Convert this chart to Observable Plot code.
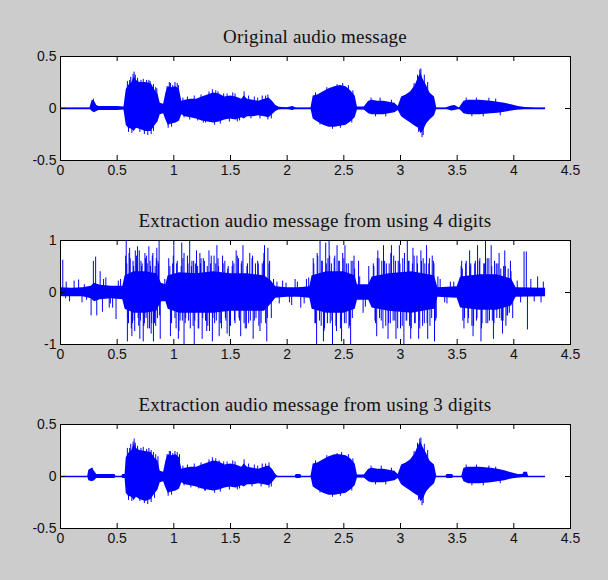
<!DOCTYPE html>
<html>
<head>
<meta charset="utf-8">
<script src="https://cdn.jsdelivr.net/npm/d3@7"></script>
<script src="https://cdn.jsdelivr.net/npm/@observablehq/plot@0.6"></script>
<style>
  html, body { margin: 0; padding: 0; background: #cccccc; }
  #fig { position: relative; width: 608px; height: 580px; background: #cccccc; overflow: hidden; }
  .panel { position: absolute; left: 0; }
  .ttl { position: absolute; left: 60px; width: 510px; text-align: center; letter-spacing: 0.2px;
         font-family: "Liberation Serif", "Times New Roman", serif; font-size: 19px; color: #111; line-height: 20px; }
</style>
</head>
<body>
<div id="fig"></div>
<script>
// ---------- titles & ticks ----------
const titles = [
  "Original audio message",
  "Extraction audio message from using 4 digits",
  "Extraction audio message from using 3 digits"
];
const xTicks = [0, 0.5, 1, 1.5, 2, 2.5, 3, 3.5, 4, 4.5];
const xTickLabels = ["0", "0.5", "1", "1.5", "2", "2.5", "3", "3.5", "4", "4.5"];
const yTicksHalf = [-0.5, 0, 0.5];
const yTickLabelsHalf = ["-0.5", "0", "0.5"];
const yTicksOne = [-1, 0, 1];
const yTickLabelsOne = ["-1", "0", "1"];
const signalEnd = 4.28;

// ---------- original signal: envelope (time s, upper, lower) + edge spikes ----------
const origT  = [0, 0.26, 0.28, 0.30, 0.32, 0.34, 0.50, 0.56, 0.58, 0.60, 0.63, 0.65, 0.67, 0.70, 0.75, 0.80, 0.83, 0.86, 0.88, 0.91, 0.93, 0.95, 0.98, 1.02, 1.05, 1.07, 1.10, 1.15, 1.20, 1.25, 1.30, 1.35, 1.40, 1.45, 1.50, 1.55, 1.60, 1.62, 1.65, 1.70, 1.75, 1.80, 1.84, 1.87, 1.90, 1.93, 2.00, 2.05, 2.08, 2.15, 2.21, 2.23, 2.27, 2.32, 2.37, 2.42, 2.47, 2.52, 2.56, 2.60, 2.62, 2.68, 2.72, 2.75, 2.80, 2.85, 2.90, 2.95, 2.98, 3.01, 3.05, 3.09, 3.13, 3.16, 3.18, 3.20, 3.23, 3.26, 3.30, 3.32, 3.40, 3.45, 3.48, 3.52, 3.56, 3.60, 3.70, 3.80, 3.86, 3.92, 3.98, 4.04, 4.10, 4.20, 4.28];
const origHi = [0.006, 0.006, 0.08, 0.07, 0.03, 0.02, 0.02, 0.015, 0.18, 0.22, 0.25, 0.30, 0.27, 0.25, 0.25, 0.24, 0.18, 0.14, 0.05, 0.04, 0.15, 0.21, 0.20, 0.21, 0.18, 0.07, 0.08, 0.09, 0.09, 0.11, 0.13, 0.15, 0.14, 0.11, 0.12, 0.11, 0.09, 0.12, 0.09, 0.08, 0.07, 0.09, 0.10, 0.07, 0.03, 0.012, 0.008, 0.02, 0.006, 0.006, 0.006, 0.12, 0.13, 0.16, 0.19, 0.21, 0.22, 0.21, 0.17, 0.12, 0.015, 0.015, 0.07, 0.08, 0.07, 0.07, 0.06, 0.05, 0.02, 0.11, 0.13, 0.16, 0.22, 0.30, 0.34, 0.28, 0.22, 0.15, 0.11, 0.006, 0.006, 0.025, 0.03, 0.006, 0.07, 0.08, 0.08, 0.07, 0.06, 0.05, 0.035, 0.02, 0.01, 0.006, 0.006];
const origLo = [-0.006, -0.006, -0.03, -0.04, -0.03, -0.02, -0.02, -0.015, -0.16, -0.19, -0.20, -0.22, -0.19, -0.20, -0.22, -0.22, -0.17, -0.13, -0.06, -0.05, -0.11, -0.16, -0.15, -0.14, -0.12, -0.06, -0.08, -0.09, -0.10, -0.12, -0.13, -0.14, -0.13, -0.11, -0.10, -0.11, -0.09, -0.10, -0.08, -0.08, -0.07, -0.08, -0.09, -0.06, -0.03, -0.012, -0.008, -0.02, -0.006, -0.006, -0.006, -0.10, -0.13, -0.16, -0.18, -0.18, -0.17, -0.16, -0.13, -0.09, -0.015, -0.015, -0.05, -0.06, -0.06, -0.06, -0.05, -0.04, -0.02, -0.08, -0.11, -0.14, -0.17, -0.19, -0.24, -0.22, -0.15, -0.11, -0.07, -0.006, -0.006, -0.025, -0.02, -0.006, -0.05, -0.06, -0.06, -0.05, -0.045, -0.035, -0.025, -0.015, -0.01, -0.006, -0.006];
const origSpikeT = [0.59, 0.61, 0.62, 0.64, 0.65, 0.66, 0.68, 0.71, 0.73, 0.76, 0.78, 0.79, 0.82, 0.84, 0.85, 0.94, 0.96, 0.97, 0.99, 1.01, 1.03, 1.04, 1.31, 1.34, 1.37, 1.39, 1.47, 1.52, 1.62, 1.71, 1.78, 1.83, 2.35, 2.44, 2.49, 2.54, 3.12, 3.15, 3.17, 3.18, 3.21, 3.24, 0.60, 0.63, 0.70, 0.74, 0.77, 0.80, 0.82, 0.95, 0.98, 1.28, 1.36, 1.41, 1.56, 1.83, 2.40, 2.47, 3.16, 3.19, 3.20,
  0.29, 1.08, 1.09, 1.12, 1.14, 1.18, 1.21, 1.24, 1.26, 1.44, 1.49, 1.54, 1.58, 1.66, 1.68, 1.74, 1.76, 1.81, 1.86, 2.25, 2.29, 2.57, 2.58, 2.74, 2.78, 2.82, 2.87, 2.92, 3.58, 3.63, 3.67, 3.73, 3.78, 3.84, 3.88];
const origSpikeV = [0.26, 0.27, 0.30, 0.33, 0.35, 0.32, 0.29, 0.27, 0.28, 0.27, 0.27, 0.26, 0.23, 0.20, 0.19, 0.21, 0.25, 0.24, 0.22, 0.25, 0.24, 0.22, 0.16, 0.18, 0.17, 0.16, 0.14, 0.15, 0.16, 0.11, 0.12, 0.13, 0.20, 0.23, 0.24, 0.22, 0.24, 0.32, 0.37, 0.38, 0.32, 0.25, -0.23, -0.24, -0.23, -0.25, -0.26, -0.25, -0.22, -0.19, -0.18, -0.14, -0.16, -0.15, -0.13, -0.11, -0.20, -0.19, -0.23, -0.28, -0.26,
  0.09, 0.10, -0.09, 0.11, -0.11, 0.12, -0.12, 0.13, -0.14, 0.14, -0.13, 0.14, -0.12, 0.12, -0.10, 0.10, -0.10, 0.12, -0.10, 0.15, -0.16, -0.14, 0.17, 0.10, -0.08, 0.10, -0.08, 0.08, 0.10, -0.08, 0.10, -0.08, 0.10, 0.09, -0.07];

// ---------- 4-digit extraction: dense core envelope + tall spikes + medium bursts ----------
const midT  = [0, 0.10, 0.20, 0.27, 0.30, 0.35, 0.45, 0.55, 0.57, 0.65, 0.75, 0.85, 0.89, 0.93, 0.95, 1.05, 1.20, 1.35, 1.50, 1.65, 1.80, 1.86, 1.90, 2.00, 2.10, 2.20, 2.22, 2.35, 2.50, 2.60, 2.62, 2.72, 2.75, 2.90, 3.10, 3.30, 3.33, 3.50, 3.53, 3.70, 3.85, 3.98, 4.02, 4.28];
const midHi = [0.09, 0.08, 0.09, 0.12, 0.18, 0.14, 0.12, 0.12, 0.32, 0.40, 0.40, 0.36, 0.18, 0.15, 0.32, 0.38, 0.36, 0.40, 0.36, 0.36, 0.32, 0.22, 0.11, 0.09, 0.09, 0.11, 0.32, 0.40, 0.40, 0.32, 0.15, 0.15, 0.30, 0.36, 0.40, 0.32, 0.09, 0.11, 0.30, 0.34, 0.34, 0.26, 0.09, 0.08];
const midLo = [-0.08, -0.08, -0.08, -0.12, -0.18, -0.14, -0.12, -0.14, -0.32, -0.40, -0.40, -0.36, -0.18, -0.18, -0.32, -0.40, -0.40, -0.40, -0.36, -0.36, -0.36, -0.22, -0.11, -0.09, -0.09, -0.11, -0.32, -0.40, -0.40, -0.32, -0.15, -0.15, -0.30, -0.36, -0.40, -0.32, -0.09, -0.11, -0.30, -0.34, -0.34, -0.26, -0.09, -0.08];
const spikeT = [0.02, 0.045, 0.16, 0.23, 0.27, 0.29, 0.31, 0.32, 0.35, 0.37, 0.40, 0.43, 0.46, 0.49, 0.51, 0.58, 0.59, 0.61, 0.63, 0.66, 0.68, 0.70, 0.73, 0.76, 0.78, 0.80, 0.82, 0.85, 0.87, 0.88, 0.92, 0.97, 1.00, 1.04, 1.07, 1.09, 1.14, 1.18, 1.20, 1.23, 1.25, 1.29, 1.31, 1.34, 1.38, 1.40, 1.43, 1.47, 1.49, 1.52, 1.55, 1.59, 1.61, 1.64, 1.67, 1.70, 1.72, 1.76, 1.80, 1.82, 1.83, 1.86, 1.91, 1.96, 2.02, 2.07, 2.12, 2.17, 2.26, 2.29, 2.32, 2.34, 2.37, 2.40, 2.44, 2.48, 2.51, 2.56, 2.59, 2.63, 2.67, 2.72, 2.79, 2.80, 2.85, 2.89, 2.92, 2.96, 2.99, 3.03, 3.06, 3.09, 3.11, 3.16, 3.18, 3.23, 3.24, 3.28, 3.30, 3.33, 3.39, 3.44, 3.54, 3.56, 3.61, 3.64, 3.68, 3.71, 3.75, 3.80, 3.82, 3.87, 3.90, 3.92, 3.93, 3.97, 3.99, 4.09, 4.11, 4.12, 4.21, 4.24];
const spikeV = [0.62, -0.12, 0.24, -0.15, -0.45, 0.60, 0.68, -0.45, 0.40, -0.38, 0.28, -0.30, -0.30, -0.52, 0.22, 1.0, -0.95, 0.85, -0.85, 0.80, 0.88, -0.90, -0.95, 0.70, 0.88, -0.80, -0.95, 0.85, 1.0, -0.90, 0.25, -0.85, 0.90, -0.90, 0.95, -1.0, 1.0, -1.0, 0.80, 0.75, -0.90, -0.75, 0.80, -0.95, 0.90, -0.85, 0.70, -0.80, -0.85, 0.60, 0.80, -0.85, 0.90, -0.70, 0.75, -0.90, 0.55, -0.75, 0.90, -0.95, 0.85, -0.50, 0.20, 0.22, -0.20, 0.25, -0.30, 0.25, -1.0, 1.0, -0.95, 0.95, 1.0, -1.0, 0.90, -0.95, 0.90, -1.0, 0.70, 0.60, -0.40, 0.50, -0.85, 0.80, 0.90, -0.90, 0.90, -0.90, 0.90, -1.0, 1.0, -0.90, 0.85, -0.90, 0.80, 0.90, -0.90, 0.70, -0.95, 0.30, -0.20, 0.20, 0.60, -0.70, 0.80, -0.85, 0.90, -0.95, 1.0, 0.90, -0.90, 0.75, -0.80, 0.80, -0.65, 0.60, -0.50, 0.78, 0.78, -0.72, 0.30, -0.20];
const burstT = [0.05, 0.08, 0.12, 0.19, 0.21, 0.38, 0.44, 0.53, 0.575, 0.60, 0.615, 0.625, 0.64, 0.65, 0.67, 0.69, 0.71, 0.72, 0.74, 0.75, 0.77, 0.79, 0.81, 0.83, 0.84, 0.86, 0.955, 0.98, 0.99, 1.02, 1.03, 1.055, 1.08, 1.10, 1.12, 1.13, 1.16, 1.17, 1.19, 1.22, 1.24, 1.27, 1.28, 1.30, 1.33, 1.36, 1.37, 1.39, 1.42, 1.45, 1.46, 1.48, 1.50, 1.53, 1.54, 1.57, 1.58, 1.60, 1.63, 1.65, 1.66, 1.69, 1.71, 1.74, 1.75, 1.78, 1.79, 1.81, 1.84, 1.88, 1.93, 1.99, 2.04, 2.09, 2.15, 2.19, 2.23, 2.25, 2.27, 2.30, 2.31, 2.33, 2.36, 2.38, 2.39, 2.42, 2.43, 2.46, 2.47, 2.50, 2.52, 2.54, 2.55, 2.58, 2.64, 2.69, 2.76, 2.78, 2.81, 2.83, 2.86, 2.87, 2.90, 2.91, 2.94, 2.95, 2.98, 3.00, 3.02, 3.05, 3.07, 3.08, 3.12, 3.13, 3.15, 3.17, 3.20, 3.21, 3.25, 3.26, 3.29, 3.31, 3.35, 3.41, 3.47, 3.535, 3.55, 3.58, 3.60, 3.62, 3.63, 3.66, 3.67, 3.70, 3.72, 3.74, 3.77, 3.78, 3.81, 3.83, 3.85, 3.86, 3.89, 3.91, 3.94, 3.95, 3.96, 4.03, 4.06, 4.15, 4.18, 4.26];
const burstV = [0.20, -0.18, 0.22, -0.20, 0.15, 0.25, -0.22, 0.25, 0.70, -0.60, 0.65, -0.70, 0.60, -0.55, 0.70, -0.65, 0.60, 0.55, -0.60, 0.65, -0.70, 0.60, 0.70, -0.60, -0.65, 0.60, 0.65, -0.60, 0.55, -0.70, 0.60, -0.55, 0.65, -0.60, 0.70, -0.55, 0.60, -0.65, 0.55, -0.70, 0.65, 0.60, -0.55, -0.65, 0.70, -0.60, 0.55, 0.65, -0.70, 0.60, -0.55, 0.50, -0.65, 0.55, -0.60, 0.65, -0.55, 0.60, -0.70, 0.55, -0.60, 0.65, -0.55, 0.60, -0.65, 0.55, 0.60, -0.60, 0.55, 0.25, -0.22, 0.18, -0.25, 0.20, -0.22, 0.28, 0.65, -0.60, 0.70, -0.65, 0.60, -0.70, 0.65, -0.60, 0.55, 0.70, -0.65, 0.60, -0.70, 0.65, -0.60, 0.55, -0.65, 0.60, 0.30, -0.28, 0.55, -0.60, 0.65, -0.55, 0.60, -0.65, 0.55, -0.60, 0.70, -0.55, 0.60, -0.70, 0.65, -0.55, 0.60, -0.65, 0.70, -0.60, 0.55, -0.70, 0.65, -0.60, 0.55, -0.65, 0.60, -0.55, 0.25, -0.22, 0.20, 0.50, -0.55, 0.60, -0.50, 0.55, -0.65, 0.60, -0.55, 0.65, -0.60, 0.55, -0.60, 0.65, -0.55, 0.60, -0.50, 0.55, -0.55, 0.50, -0.45, 0.45, -0.40, 0.22, -0.20, 0.25, -0.18, 0.20];
const fillT = [0.585, 0.595, 0.605, 0.635, 0.645, 0.655, 0.675, 0.685, 0.695, 0.705, 0.715, 0.735, 0.745, 0.755, 0.765, 0.785, 0.795, 0.805, 0.815, 0.825, 0.835, 0.845, 0.855, 0.865, 0.875,
  0.965, 0.975, 0.995, 1.01, 1.025, 1.045, 1.065, 1.075, 1.09, 1.105, 1.125, 1.145, 1.155, 1.175, 1.185, 1.21, 1.215, 1.235, 1.255, 1.26, 1.285, 1.295, 1.315, 1.325, 1.345, 1.355, 1.375, 1.395, 1.41, 1.435, 1.455, 1.475, 1.495, 1.515, 1.535, 1.56, 1.575, 1.595, 1.62, 1.645, 1.675, 1.695, 1.725, 1.745, 1.77, 1.795, 1.825, 1.845,
  2.235, 2.245, 2.265, 2.285, 2.305, 2.325, 2.345, 2.355, 2.375, 2.395, 2.415, 2.435, 2.455, 2.475, 2.49, 2.505, 2.525, 2.545, 2.565, 2.575, 2.595,
  2.765, 2.775, 2.795, 2.815, 2.835, 2.845, 2.875, 2.895, 2.915, 2.935, 2.955, 2.975, 2.995, 3.015, 3.035, 3.055, 3.075, 3.095, 3.105, 3.125, 3.145, 3.165, 3.185, 3.195, 3.215, 3.235, 3.255, 3.275, 3.295, 3.315,
  3.545, 3.565, 3.575, 3.595, 3.615, 3.645, 3.655, 3.675, 3.695, 3.715, 3.735, 3.755, 3.765, 3.785, 3.805, 3.825, 3.845, 3.875, 3.885, 3.905, 3.925, 3.945, 3.975];
const fillV = [0.55, -0.50, 0.75, -0.60, 0.50, -0.75, 0.55, -0.50, 0.80, -0.55, 0.50, -0.65, 0.75, -0.50, 0.55, -0.70, 0.50, -0.60, 0.75, -0.55, 0.50, 0.65, -0.50, 0.55, -0.45,
  0.50, -0.55, 0.70, -0.50, 0.55, -0.75, 0.50, -0.55, 0.75, -0.50, 0.55, -0.70, 0.50, 0.60, -0.55, 0.50, -0.70, 0.55, -0.50, 0.65, -0.55, 0.50, -0.75, 0.55, -0.50, 0.70, -0.55, 0.50, -0.60, 0.55, -0.50, 0.45, -0.65, 0.50, -0.55, 0.70, -0.50, 0.55, -0.60, 0.50, -0.55, 0.70, -0.50, 0.55, -0.60, 0.75, -0.50, 0.60,
  0.55, -0.60, 0.75, -0.55, 0.60, -0.75, 0.55, -0.60, 0.70, -0.55, 0.65, -0.75, 0.60, -0.55, 0.75, -0.60, 0.55, -0.70, 0.60, -0.50, 0.45,
  0.50, -0.55, 0.65, -0.50, 0.60, -0.70, 0.55, -0.60, 0.75, -0.55, 0.60, -0.70, 0.55, -0.65, 0.75, -0.55, 0.60, -0.70, 0.55, -0.60, 0.70, -0.55, 0.60, -0.65, 0.55, -0.60, 0.65, -0.50, 0.55, -0.50,
  0.45, -0.50, 0.55, -0.60, 0.50, -0.65, 0.55, -0.50, 0.60, -0.70, 0.55, -0.60, 0.65, -0.55, 0.50, -0.60, 0.55, -0.50, 0.45, -0.55, 0.50, -0.45, 0.40];

// ---------- 3-digit extraction: envelope + edge spikes ----------
const lowT  = [0, 0.24, 0.25, 0.28, 0.30, 0.32, 0.48, 0.49, 0.54, 0.55, 0.57, 0.58, 0.60, 0.63, 0.65, 0.67, 0.70, 0.75, 0.80, 0.83, 0.86, 0.88, 0.91, 0.93, 0.95, 0.98, 1.02, 1.05, 1.07, 1.10, 1.15, 1.20, 1.25, 1.30, 1.35, 1.40, 1.45, 1.50, 1.55, 1.60, 1.62, 1.65, 1.70, 1.75, 1.80, 1.84, 1.87, 1.90, 1.92, 2.07, 2.08, 2.12, 2.13, 2.21, 2.23, 2.27, 2.32, 2.37, 2.42, 2.47, 2.52, 2.56, 2.60, 2.62, 2.68, 2.72, 2.75, 2.80, 2.85, 2.90, 2.95, 2.98, 3.01, 3.05, 3.09, 3.13, 3.16, 3.18, 3.20, 3.23, 3.26, 3.30, 3.32, 3.40, 3.41, 3.46, 3.47, 3.54, 3.56, 3.60, 3.70, 3.80, 3.86, 3.92, 3.98, 4.04, 4.08, 4.09, 4.12, 4.13, 4.28];
const lowHi = [0, 0, 0.06, 0.08, 0.05, 0.02, 0.02, 0, 0, 0.02, 0.02, 0.18, 0.22, 0.25, 0.31, 0.27, 0.25, 0.24, 0.23, 0.18, 0.15, 0.05, 0.04, 0.15, 0.21, 0.20, 0.21, 0.18, 0.07, 0.08, 0.09, 0.09, 0.11, 0.13, 0.15, 0.14, 0.11, 0.12, 0.11, 0.09, 0.12, 0.09, 0.08, 0.07, 0.09, 0.10, 0.07, 0.02, 0, 0, 0.02, 0.02, 0, 0, 0.12, 0.13, 0.16, 0.19, 0.21, 0.21, 0.20, 0.17, 0.12, 0.015, 0.015, 0.07, 0.08, 0.07, 0.07, 0.06, 0.05, 0.02, 0.11, 0.13, 0.16, 0.22, 0.30, 0.33, 0.28, 0.22, 0.15, 0.11, 0, 0, 0.02, 0.02, 0, 0, 0.08, 0.09, 0.09, 0.08, 0.07, 0.055, 0.035, 0.02, 0.02, 0.04, 0.04, 0, 0];
const lowLo = [0, 0, -0.04, -0.05, -0.04, -0.02, -0.02, 0, 0, -0.02, -0.02, -0.16, -0.19, -0.20, -0.23, -0.20, -0.22, -0.24, -0.22, -0.17, -0.13, -0.06, -0.05, -0.11, -0.16, -0.15, -0.14, -0.12, -0.06, -0.08, -0.09, -0.10, -0.12, -0.13, -0.14, -0.13, -0.11, -0.10, -0.11, -0.09, -0.10, -0.08, -0.08, -0.07, -0.08, -0.09, -0.06, -0.02, 0, 0, -0.02, -0.02, 0, 0, -0.10, -0.13, -0.16, -0.18, -0.18, -0.17, -0.16, -0.13, -0.09, -0.015, -0.015, -0.05, -0.06, -0.06, -0.06, -0.05, -0.04, -0.02, -0.08, -0.11, -0.14, -0.17, -0.19, -0.24, -0.22, -0.15, -0.11, -0.07, 0, 0, -0.02, -0.02, 0, 0, -0.05, -0.07, -0.07, -0.06, -0.05, -0.04, -0.025, -0.015, -0.01, 0, 0, 0, 0];
const lowSpikeT = [0.59, 0.61, 0.62, 0.64, 0.65, 0.66, 0.68, 0.71, 0.73, 0.76, 0.78, 0.80, 0.82, 0.84, 0.86, 0.94, 0.96, 0.97, 0.99, 1.01, 1.03, 1.05, 1.31, 1.34, 1.37, 1.40, 1.47, 1.52, 1.62, 1.71, 1.78, 1.84, 2.35, 2.44, 2.48, 2.54, 3.12, 3.15, 3.17, 3.18, 3.21, 3.24, 0.60, 0.63, 0.70, 0.74, 0.77, 0.80, 0.83, 0.95, 0.98, 1.28, 1.36, 1.41, 1.56, 1.84, 2.40, 2.47, 3.16, 3.19, 3.20,
  0.28, 1.08, 1.09, 1.12, 1.15, 1.18, 1.22, 1.24, 1.27, 1.44, 1.49, 1.54, 1.58, 1.66, 1.69, 1.74, 1.77, 1.81, 1.86, 2.25, 2.29, 2.57, 2.58, 2.74, 2.78, 2.83, 2.87, 2.92, 3.58, 3.63, 3.67, 3.73, 3.78, 3.84, 3.88];
const lowSpikeV = [0.27, 0.27, 0.31, 0.33, 0.36, 0.32, 0.29, 0.27, 0.28, 0.26, 0.27, 0.25, 0.23, 0.21, 0.19, 0.21, 0.24, 0.24, 0.22, 0.24, 0.23, 0.21, 0.16, 0.18, 0.17, 0.15, 0.14, 0.15, 0.16, 0.11, 0.12, 0.13, 0.20, 0.22, 0.23, 0.21, 0.24, 0.32, 0.36, 0.37, 0.31, 0.25, -0.23, -0.24, -0.24, -0.26, -0.27, -0.25, -0.21, -0.19, -0.18, -0.14, -0.16, -0.15, -0.13, -0.11, -0.20, -0.19, -0.23, -0.28, -0.26,
  0.08, 0.10, -0.09, 0.11, -0.11, 0.12, -0.12, 0.13, -0.14, 0.14, -0.13, 0.14, -0.12, 0.12, -0.10, 0.10, -0.10, 0.12, -0.10, 0.15, -0.16, -0.14, 0.17, 0.10, -0.08, 0.10, -0.08, 0.08, 0.11, -0.09, 0.11, -0.09, 0.10, 0.09, -0.07];

const BLUE = "#0000ff";
const zip = (T, H, L) => T.map((t, i) => ({t, hi: H[i], lo: L[i]}));
const pairs = (T, V) => T.map((t, i) => ({t, v: V[i]}));

function panel({yTicks, yLabels, envelope, spikes}) {
  const W = 608, H = 189, ML = 60, MR = 38, MT = 56, MB = 29;
  const fw = W - ML - MR, fh = H - MT - MB, tick = 5;
  const yDom = [yTicks[0], yTicks[yTicks.length - 1]];
  const marks = [
    Plot.frame({fill: "white", stroke: null}),
    Plot.ruleY([0], {x1: 0, x2: signalEnd, stroke: BLUE, strokeWidth: 1.3}),
    Plot.areaY(envelope, {x: "t", y1: "lo", y2: "hi", fill: BLUE, curve: "linear"})
  ];
  for (const s of spikes) marks.push(Plot.ruleX(s, {x: "t", y1: 0, y2: "v", stroke: BLUE, strokeWidth: 1}));
  marks.push(
    Plot.ruleX(xTicks, {x: d => d, insetTop: fh - tick, stroke: "black"}),
    Plot.ruleX(xTicks, {x: d => d, insetBottom: fh - tick, stroke: "black"}),
    Plot.ruleY(yTicks, {y: d => d, insetRight: fw - tick, stroke: "black"}),
    Plot.ruleY(yTicks, {y: d => d, insetLeft: fw - tick, stroke: "black"}),
    Plot.frame({stroke: "black", strokeWidth: 1}),
    Plot.axisX({ticks: xTicks, tickSize: 0, tickPadding: 5, tickFormat: d => xTickLabels[xTicks.indexOf(d)], label: null}),
    Plot.axisY({ticks: yTicks, tickSize: 0, tickPadding: 4, tickFormat: d => yLabels[yTicks.indexOf(d)], label: null})
  );
  return Plot.plot({
    width: W, height: H, marginLeft: ML, marginRight: MR, marginTop: MT, marginBottom: MB,
    style: {background: "transparent", fontFamily: "'Liberation Sans', Arial, sans-serif", fontSize: "14px", color: "#111"},
    x: {domain: [0, 4.5]},
    y: {domain: yDom},
    marks
  });
}

const fig = document.getElementById("fig");
const panels = [
  {yTicks: yTicksHalf, yLabels: yTickLabelsHalf, envelope: zip(origT, origHi, origLo), spikes: [pairs(origSpikeT, origSpikeV)]},
  {yTicks: yTicksOne, yLabels: yTickLabelsOne, envelope: zip(midT, midHi, midLo), spikes: [pairs(fillT, fillV), pairs(burstT, burstV), pairs(spikeT, spikeV)]},
  {yTicks: yTicksHalf, yLabels: yTickLabelsHalf, envelope: zip(lowT, lowHi, lowLo), spikes: [pairs(lowSpikeT, lowSpikeV)]}
];
const tops = [0, 184, 368];
panels.forEach((p, i) => {
  const svg = panel(p);
  svg.classList.add("panel");
  svg.style.top = tops[i] + "px";
  fig.appendChild(svg);
  const t = document.createElement("div");
  t.className = "ttl";
  t.textContent = titles[i];
  t.style.top = (tops[i] + 27) + "px";
  fig.appendChild(t);
});
</script>
</body>
</html>
